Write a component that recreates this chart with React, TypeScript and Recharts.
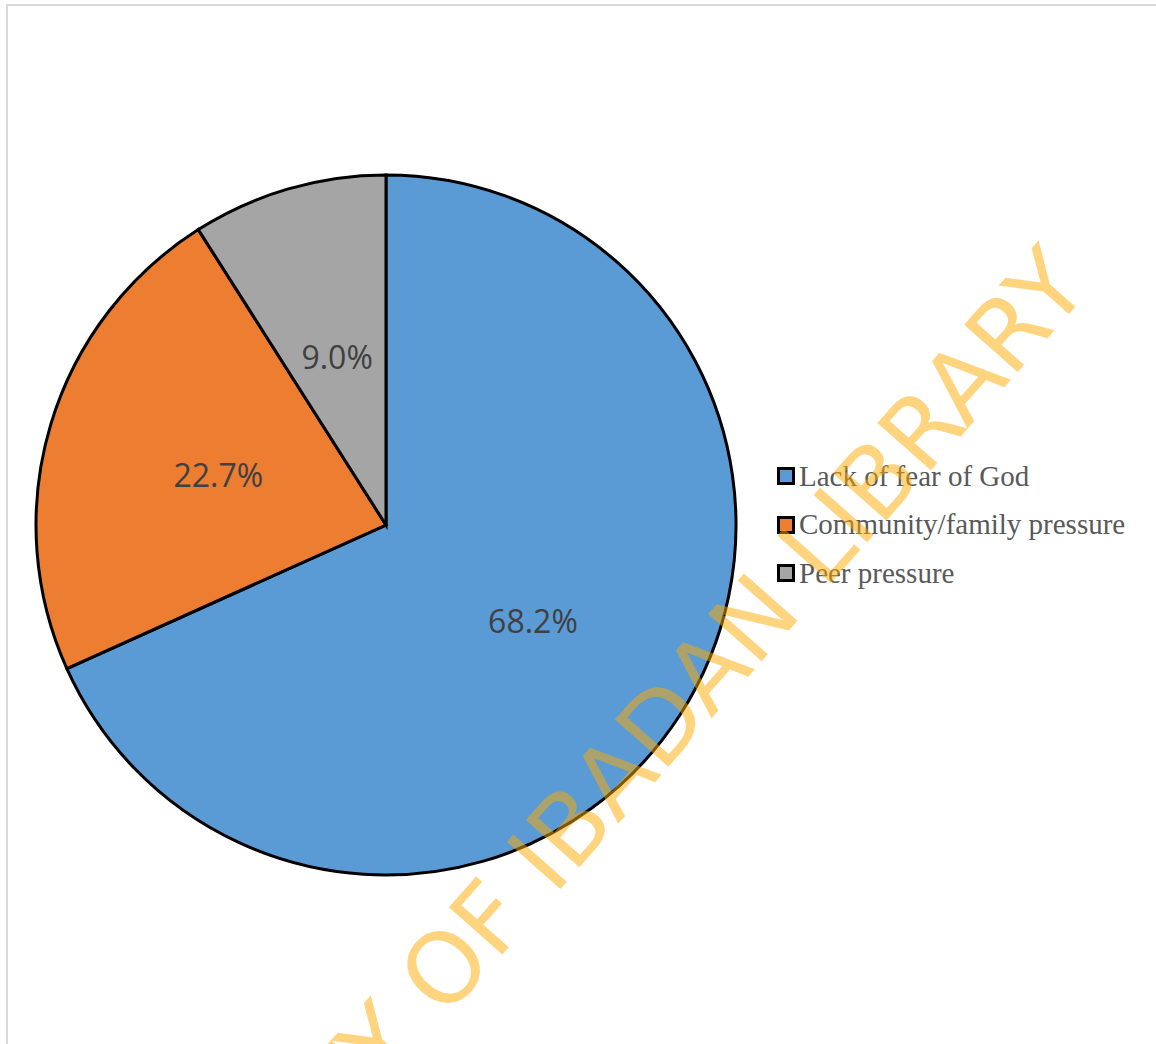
import React from "react";
import { PieChart, Pie, Cell, Legend } from "recharts";

const categories = ["Lack of fear of God", "Community/family pressure", "Peer pressure"];
const values = [68.2, 22.7, 9.0];
const colors = ["#5B9BD5", "#ED7D31", "#A5A5A5"];
const watermark = "UNIVERSITY OF IBADAN LIBRARY";

const data = categories.map((name, i) => ({ name, value: values[i] }));
const RAD = Math.PI / 180;

const renderLabel = (props: any) => {
  const { cx, cy, midAngle, outerRadius, index } = props;
  const r = outerRadius * 0.5;
  const x = cx + r * Math.cos(-midAngle * RAD);
  const y = cy + r * Math.sin(-midAngle * RAD);
  return (
    <text
      x={x}
      y={y}
      textAnchor="middle"
      dominantBaseline="central"
      fill="#404040"
      fontFamily="'Open Sans', sans-serif"
      fontSize={32}
    >
      {values[index].toFixed(1)}%
    </text>
  );
};

const renderLegend = () => (
  <div style={{ display: "flex", flexDirection: "column" }}>
    {categories.map((c, i) => (
      <div key={c} style={{ display: "flex", alignItems: "center", height: 48.5 }}>
        <div
          style={{
            width: 18,
            height: 18,
            boxSizing: "border-box",
            border: "3px solid #000",
            background: colors[i],
            marginRight: 4,
            flex: "none",
          }}
        />
        <span
          style={{
            fontFamily: "'Liberation Serif', 'Times New Roman', serif",
            fontSize: 29,
            color: "#595959",
            whiteSpace: "nowrap",
            lineHeight: 1,
          }}
        >
          {c}
        </span>
      </div>
    ))}
  </div>
);

export default function App() {
  return (
    <div
      style={{
        position: "absolute",
        left: 0,
        top: 0,
        width: 1156,
        height: 1044,
        overflow: "hidden",
        background: "#fff",
      }}
    >
      <div
        style={{
          position: "absolute",
          left: 6,
          top: 4,
          width: 1200,
          height: 1100,
          border: "2px solid #D9D9D9",
        }}
      />
      <div style={{ position: "absolute", left: 0, top: 0 }}>
        <PieChart width={1156} height={1044} margin={{ top: 0, right: 0, bottom: 0, left: 0 }}>
          <Pie
            data={data}
            dataKey="value"
            nameKey="name"
            cx={386}
            cy={525}
            outerRadius={350}
            startAngle={90}
            endAngle={-270}
            stroke="#000"
            strokeWidth={3}
            label={renderLabel}
            labelLine={false}
            isAnimationActive={false}
          >
            {data.map((d, i) => (
              <Cell key={d.name} fill={colors[i]} />
            ))}
          </Pie>
          <Legend
            layout="vertical"
            align="right"
            verticalAlign="middle"
            content={renderLegend}
            wrapperStyle={{ position: "absolute", left: 777, top: 452, width: 379 }}
          />
        </PieChart>
      </div>
      <svg
        width={1156}
        height={1044}
        style={{ position: "absolute", left: 0, top: 0, pointerEvents: "none" }}
      >
        <text
          x={1092}
          y={288}
          textAnchor="end"
          transform="rotate(-48.5 1092 288)"
          fontFamily="'DejaVu Sans', sans-serif"
          fontSize={98}
          fill="#FFAA00"
          fillOpacity={0.5}
        >
          {watermark}
        </text>
      </svg>
    </div>
  );
}
